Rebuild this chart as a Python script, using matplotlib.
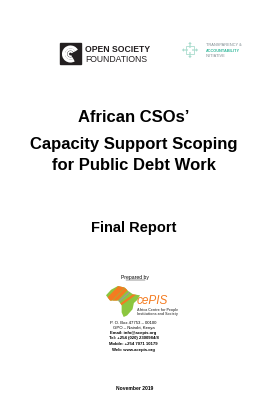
import matplotlib
matplotlib.use("Agg")
import matplotlib.pyplot as plt
from matplotlib.patches import Rectangle, Polygon, Arc, FancyArrow
import numpy as np

# ---- content ----
osf_lines = ["OPEN SOCIETY", "FOUNDATIONS"]
tai_lines = ["TRANSPARENCY &", "ACCOUNTABILITY", "INITIATIVE"]
title_lines = ["African CSOs\u2019", "Capacity Support Scoping", "for Public Debt Work"]
subtitle = "Final Report"
prepared = "Prepared by"
cepis_name = "cePIS"
cepis_sub = ["Africa Centre for People", "Institutions and Society"]
address_lines = ["P. O. Box 47753 \u2013 00100", "GPO \u2013 Nairobi, Kenya",
                 "Email: info@acepis.org", "Tel: +254 (020) 2300984/8",
                 "Mobile: +254 7071 10179", "Web: www.acepis.org"]
address_bold = [False, False, True, True, True, True]
date_text = "November 2019"

W, H = 267, 397
fig = plt.figure(figsize=(W / 100, H / 100), dpi=100)
ax = fig.add_axes([0, 0, 1, 1])
ax.set_xlim(0, W)
ax.set_ylim(H, 0)
ax.axis("off")
fam = ["Liberation Sans", "DejaVu Sans"]

# ---- OSF logo ----
ax.add_patch(Rectangle((60, 43), 21, 21, color="#231f20"))
for r, lw in [(14, 2.2), (9, 1.6), (4.5, 1.2)]:
    ax.add_patch(Arc((70.5, 54), r, r, angle=0, theta1=60, theta2=330, color="white", lw=lw))
ax.text(85, 49.5, osf_lines[0], fontsize=6.2, fontweight="bold", family=fam,
        color="#231f20", va="center", ha="left")
ax.text(85, 59, osf_lines[1], fontsize=6.2, family=fam, color="#231f20",
        va="center", ha="left")

# ---- TAI logo ----
cx, cy = 190, 50
tc = "#a9dccd"
for dx, dy in [(1, 0), (-1, 0), (0, 1), (0, -1)]:
    ax.add_patch(FancyArrow(cx + dx * 2, cy + dy * 2, dx * 4, dy * 4, width=1.2,
                            head_width=3.5, head_length=2.2, color=tc, lw=0))
ax.add_patch(Rectangle((cx - 4, cy - 4), 8, 8, fill=False, ec=tc, lw=0.6))
tai_colors = ["#7d8a8f", "#2fb89a", "#7d8a8f"]
for i, (t, c) in enumerate(zip(tai_lines, tai_colors)):
    ax.text(206, 45 + i * 5.6, t, fontsize=2.8, family=fam, color=c,
            va="center", ha="left", fontweight="bold" if i == 1 else "normal")

# ---- Title ----
ax.text(133.5, 118, title_lines[0], fontsize=12, fontweight="bold", family=fam,
        ha="center", va="center", color="black")
ax.text(133.5, 145, title_lines[1], fontsize=12, fontweight="bold", family=fam,
        ha="center", va="center", color="black")
ax.text(133.5, 165, title_lines[2], fontsize=12, fontweight="bold", family=fam,
        ha="center", va="center", color="black")
ax.text(133.5, 228, subtitle, fontsize=10.5, fontweight="bold", family=fam,
        ha="center", va="center", color="black")

# ---- Prepared by ----
ax.text(135, 278, prepared, fontsize=3.6, family=fam, ha="center",
        va="center", color="black")
ax.plot([125.5, 144.5], [280.2, 280.2], color="black", lw=0.3)

# ---- CePIS logo ----
ox, oy, sw, sh = 106, 286, 34, 31
africa = np.array([(0.15, 0.12), (0.35, 0.0), (0.55, 0.05), (0.66, 0.17),
                   (0.8, 0.27), (1.0, 0.3), (0.92, 0.45), (0.82, 0.55),
                   (0.78, 0.75), (0.62, 0.95), (0.52, 1.0), (0.46, 0.85),
                   (0.46, 0.62), (0.36, 0.47), (0.12, 0.47), (0.0, 0.3)])
pts = np.column_stack([ox + africa[:, 0] * sw, oy + africa[:, 1] * sh])
poly = Polygon(pts, closed=True, color="#8cc63f", lw=0)
ax.add_patch(poly)
for (x0, y0, x1, y1, c, lw) in [(106, 303, 124, 284, "#f47b20", 4.0),
                                 (110, 306, 130, 285, "#f47b20", 2.5),
                                 (116, 304, 133, 289, "#9a9a9a", 1.0),
                                 (120, 305, 138, 292, "#f47b20", 1.6)]:
    ln, = ax.plot([x0, x1], [y0, y1], color=c, lw=lw, solid_capstyle="butt")
    ln.set_clip_path(poly)
ax.text(137, 301, cepis_name, fontsize=8.5, family=fam, style="italic",
        color="#f47b20", ha="left", va="center")
for i, s in enumerate(cepis_sub):
    ax.text(137, 310 + i * 3.8, s, fontsize=2.6, family=fam, fontweight="bold",
            color="#555555", ha="left", va="center")

# ---- address ----
ys = [322.5, 327.5, 333, 338.5, 344, 349.5]
for s, b, y in zip(address_lines, address_bold, ys):
    ax.text(133.5, y, s, fontsize=3.1, family=fam, fontweight="bold" if b else "normal",
            color="black", ha="center", va="center")

# ---- date ----
ax.text(134.5, 389, date_text, fontsize=3.6, family=fam, fontweight="bold",
        ha="center", va="center", color="black")

fig.savefig("out.png", dpi=100, facecolor="white")
